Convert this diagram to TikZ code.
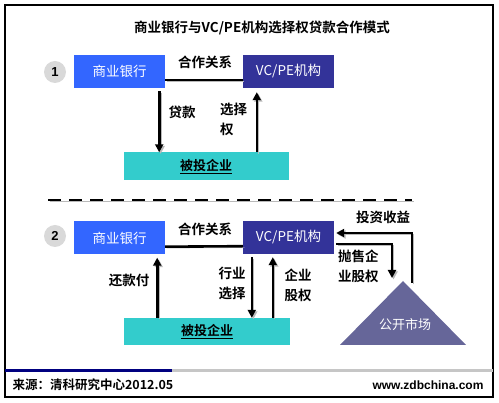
\documentclass[tikz,border=0pt]{standalone}
\usepackage{fontspec}
\setmainfont{Liberation Sans}
\newfontfamily\cjk{Noto Sans CJK SC}
\newfontfamily\cjkbold{Noto Sans CJK SC Bold}
\usepackage{xcolor}
\usetikzlibrary{arrows.meta, positioning, calc}
\definecolor{bankblue}{HTML}{3366FF}
\definecolor{vcnavy}{HTML}{333399}
\definecolor{firmteal}{HTML}{33CCCC}
\definecolor{mktslate}{HTML}{666699}
\definecolor{footnavy}{HTML}{000080}
\tikzset{
  party/.style={minimum width=91pt, minimum height=33pt, inner sep=0pt, text=white, font=\cjk\fontsize{13.5}{15}\selectfont},
  firm/.style={fill=firmteal, minimum width=165pt, minimum height=28pt, inner sep=0pt, font=\cjkbold\fontsize{13}{15}\selectfont},
  tag/.style={font=\cjkbold\fontsize{13.5}{20}\selectfont, align=left, inner sep=0pt},
  stepnum/.style={circle, fill=gray!30, minimum size=22pt, inner sep=0pt, font=\bfseries\fontsize{13}{15}\selectfont},
  shade/.style={preaction={draw=gray!55, transform canvas={xshift=1.5pt, yshift=-1.5pt}}},
  link/.style={-{Triangle[length=8pt, width=8pt]}, line width=2.6pt, shade},
  tie/.style={line width=2.6pt, shade}
}

\begin{document}
\begin{tikzpicture}[x=1pt, y=-1pt]
        \useasboundingbox (0,0) rectangle (499,403);
        % Frame and title
        \draw[line width=1.2pt] (5,5) rectangle (493,397);
        \node[font=\cjkbold\fontsize{13.5}{15}\selectfont] (title) at (262,28) {商业银行与VC/PE机构选择权贷款合作模式};

        % Mode 1
        \node[stepnum] (one) at (55,72) {1};
        \node[party, fill=bankblue] (bank1) at (119.5,71.5) {商业银行};
        \node[party, fill=vcnavy] (vcpe1) at (288.5,71.5) {VC/PE机构};
        \node[firm] (invest1) at (206,166.5) {\underline{被投企业}};
        \draw[tie] ([yshift=8pt]bank1.south east) -- ([yshift=8pt]vcpe1.south west);
        \node[tag] (coop1) at (205,62) {合作关系};

        \draw[link] ([xshift=-6pt, yshift=-3pt]bank1.south east) -- ([xshift=-6pt]bank1.south east |- invest1.north);
        \draw[link] ([xshift=14pt]vcpe1.south west |- invest1.north) -- ([xshift=14pt, yshift=-4pt]vcpe1.south west);
        \node[tag] (loan1) at (182,112) {贷款};
        \node[tag, anchor=north west] (option1) at (220,103) {选择\\权};

        % Separator
        \coordinate (sepL) at (48,200);
        \coordinate (sepR) at (412,200);
        \draw[line width=2.6pt, dash pattern=on 13pt off 8pt, shade] (sepL) -- (sepR);

        % Mode 2
        \node[stepnum] (two) at (55,236) {2};
        \node[party, fill=bankblue] (bank2) at (119.5,238) {商业银行};
        \node[party, fill=vcnavy] (vcpe2) at (288.5,237.5) {VC/PE机构};
        \node[firm, minimum width=166pt, minimum height=27pt] (invest2) at (207,331.5) {\underline{被投企业}};
        \draw[tie] ([yshift=8pt]bank2.south east) -- ([yshift=8pt]vcpe2.south west);
        \node[tag] (coop2) at (205,229) {合作关系};

        \draw[link] ([xshift=-8pt]bank2.south east |- invest2.north) -- ([xshift=-8pt, yshift=-3pt]bank2.south east);
        \draw[link] ([xshift=9pt, yshift=-3pt]vcpe2.south west) -- ([xshift=9pt]vcpe2.south west |- invest2.north);
        \draw[link] ([xshift=30pt]vcpe2.south west |- invest2.north) -- ([xshift=30pt, yshift=-3pt]vcpe2.south west);
        \node[tag] (repay) at (129,280) {还款付};
        \node[tag] (sector) at (232,283) {行业\\选择};
        \node[tag] (equity) at (298,285) {企业\\股权};

        % Public market
        \coordinate (apex) at (403,281);
        \fill[mktslate] (apex) -- (466,345) -- (340,345) -- cycle;
        \node[text=white, font=\cjk\fontsize{13}{15}\selectfont] (market) at (405,325) {公开市场};
        \draw[link] ([xshift=9pt, yshift=-2pt]apex) |- ([xshift=2pt, yshift=4.5pt]vcpe2.east);
        \draw[link] ([xshift=2pt, yshift=-6.5pt]vcpe2.east) -| ([xshift=-11pt, yshift=3pt]apex);
        \node[tag] (gain) at (383,217) {投资收益};
        \node[tag, anchor=north west] (sell) at (338,250) {抛售企\\业股权};

        % Footer
        \coordinate (footL) at (5,370.5);
        \coordinate (footM) at (172,370.5);
        \coordinate (footR) at (493,370.5);
        \draw[line width=3pt, footnavy] (footL) -- (footM);
        \draw[line width=3pt, gray!45] (footM) -- (footR);
        \node[anchor=west, font=\cjkbold\fontsize{12.5}{14}\selectfont] (source) at (9,385) {来源：清科研究中心2012.05};
        \node[anchor=east, font=\bfseries\fontsize{12}{14}\selectfont] (site) at (487,385) {www.zdbchina.com};
    \end{tikzpicture}
\end{document}
